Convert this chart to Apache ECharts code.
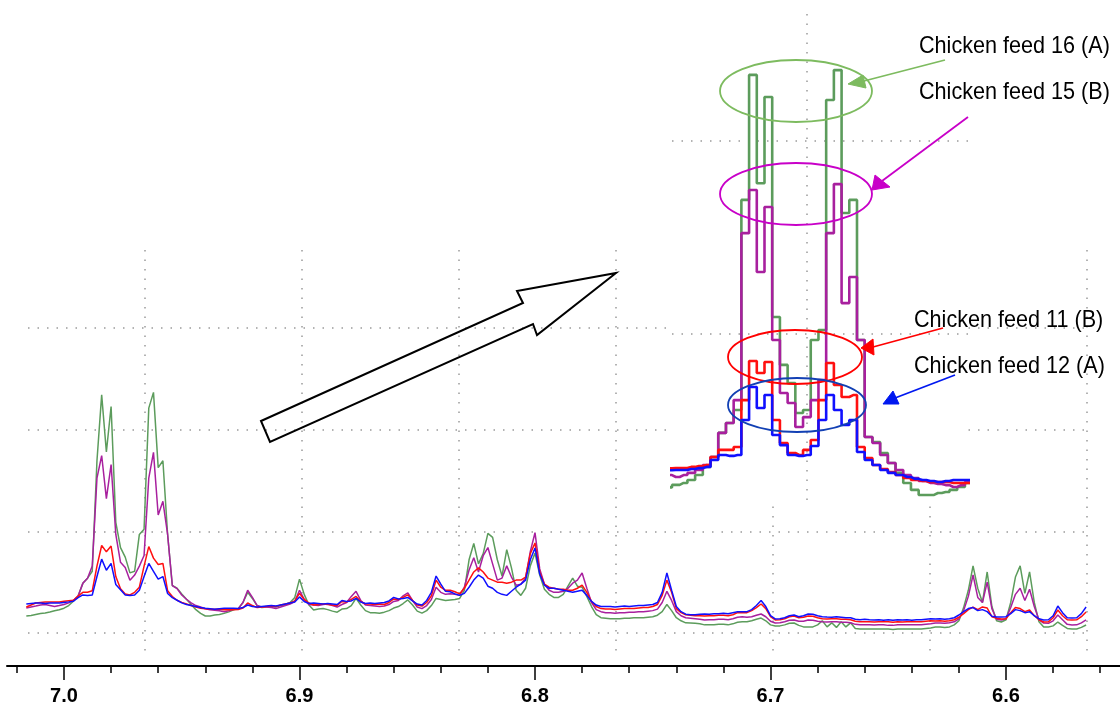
<!DOCTYPE html>
<html>
<head>
<meta charset="utf-8">
<script src="https://cdn.jsdelivr.net/npm/echarts@6/dist/echarts.min.js"></script>
<style>
  html, body { margin: 0; padding: 0; background: #fff; }
  #chart { width: 1120px; height: 706px; }
</style>
</head>
<body>
<div id="chart"></div>
<script>
// spectrum is sampled uniformly: first point and spacing (ppm)
const ppmStart = 7.016
const ppmStep = 0.002

// intensities (arbitrary units)
const blue12 = [
  28.5, 29.0, 29.5, 29.5, 29.0, 29.5, 29.6, 29.6, 30.1, 30.6,
  31.2, 34.8, 37.4, 36.9, 37.4, 55.5, 72.6, 61.7, 68.4, 47.7,
  42.5, 37.4, 36.9, 37.4, 42.0, 55.5, 68.4, 60.7, 52.9, 55.5,
  38.9, 34.8, 32.2, 29.6, 28.1, 27.0, 26.0, 25.0, 24.4, 23.9,
  23.4, 23.9, 24.4, 24.4, 24.4, 24.0, 25.0, 27.5, 26.0, 25.5,
  26.0, 26.5, 27.0, 26.5, 27.5, 28.5, 29.5, 30.5, 35.5, 31.0,
  29.0, 29.5, 29.0, 28.5, 29.0, 28.5, 28.0, 32.0, 31.0, 31.5,
  34.0, 30.5, 29.0, 29.5, 29.0, 29.5, 30.0, 31.5, 35.0, 33.5,
  34.0, 35.0, 31.5, 28.5, 27.5, 32.0, 40.0, 56.0, 48.0, 41.0,
  40.5, 38.5, 37.0, 39.0, 45, 52, 57, 54, 46, 44,
  40, 38, 37, 41, 45, 48, 52, 72, 83.6, 58,
  47, 44, 44, 43, 42, 41, 40, 41, 42, 37,
  31, 27.5, 26, 26, 26, 25.5, 26, 26.5, 26, 26.5,
  27, 27, 27.5, 28, 30, 40, 59, 42, 26, 21,
  18.5, 18, 18, 18.5, 18.7, 18.5, 19, 19, 19.5, 19,
  20, 21, 21, 21, 23, 27, 32, 26, 17, 13.8,
  14, 15, 17, 17.7, 16, 17, 18.7, 18.5, 17, 16,
  15.7, 15.5, 16, 15.5, 15, 15, 13.5, 13, 13.5, 13,
  12.8, 13, 12.5, 13, 12.5, 13, 12.8, 13, 12.5, 13,
  13, 13.5, 14, 13.8, 14, 13.5, 14, 15, 17.7, 21,
  24, 25, 22, 23, 21, 16.5, 15.7, 15.7, 16, 19,
  23, 22, 20, 21, 17, 14, 12.8, 13, 17, 26.5,
  20, 15, 14.7, 15, 19, 25.6
]
const red11 = [
  25.6, 27.5, 29.5, 30.0, 30.5, 30.5, 30.6, 30.6, 31.2, 31.7,
  32.2, 36.3, 40.0, 40.0, 41.5, 65.8, 86.0, 79.8, 85.5, 55.5,
  43.6, 38.4, 37.4, 40.0, 45.1, 65.8, 85.0, 73.6, 67.4, 68.4,
  41.5, 35.8, 32.2, 30.1, 28.6, 27.0, 25.5, 24.4, 23.9, 23.4,
  23.4, 23.4, 22.9, 22.9, 22.9, 23.0, 24.5, 29.5, 27.0, 25.0,
  25.5, 26.0, 26.5, 26.0, 27.5, 28.5, 29.5, 31.5, 39.0, 33.0,
  29.5, 27.5, 28.0, 28.5, 28.0, 27.5, 27.0, 31.0, 30.5, 33.0,
  36.0, 31.0, 28.5, 28.5, 28.0, 28.5, 28.0, 30.0, 33.5, 33.0,
  35.0, 37.5, 32.0, 27.5, 26.5, 30.0, 36.5, 52.0, 45.0, 42.0,
  42.0, 40.5, 38.5, 44.0, 52, 60, 64, 60, 54, 52,
  50, 50, 49, 50, 52, 52, 55, 78, 88.5, 60,
  48, 45, 44, 43, 43, 42, 42, 44, 47, 40,
  31, 26, 24, 23.5, 23.5, 23, 23.5, 24, 24, 24,
  24.5, 25, 25, 26, 28, 37, 52, 40, 24, 20,
  18, 17.5, 17, 17, 16.7, 17, 17, 17.5, 17.5, 17,
  18, 20, 20, 20, 22, 25, 28.5, 24, 16, 12.8,
  13, 14, 16, 16.7, 15, 15.5, 16.7, 16.5, 15, 14,
  13.8, 14, 14, 13.5, 13.5, 13, 11.5, 11, 11, 11,
  10.8, 11, 11, 11, 10.5, 11, 10.8, 11, 11, 11,
  11, 11.5, 12, 11.8, 12, 11.5, 12, 13, 15.5, 19,
  23, 25.5, 23, 25.6, 24.6, 16, 14.5, 13.8, 14, 20,
  25, 24, 21, 22.6, 17, 13, 10.8, 11, 15, 22.6,
  17, 13, 12.8, 13, 16, 20.6
]
const purple15 = [
  24.6, 25.6, 26.5, 27.5, 28.0, 27.0, 26.0, 27.0, 28.1, 29.6,
  32.2, 36.3, 48.8, 53.9, 65.8, 152.2, 174.5, 132.1, 165.7, 96.9,
  69.5, 64.3, 51.9, 57.0, 65.8, 76.2, 152.2, 177.6, 116.0, 129.5,
  96.9, 46.7, 43.6, 37.4, 33.2, 29.6, 27.0, 25.5, 23.9, 22.9,
  22.4, 21.8, 20.8, 21.8, 23.4, 24.0, 30.0, 42.0, 35.0, 27.0,
  25.5, 25.5, 25.0, 24.0, 25.5, 27.0, 28.5, 31.0, 42.0, 33.0,
  28.0, 27.5, 27.0, 28.0, 28.5, 27.0, 25.5, 28.0, 30.0, 36.0,
  41.0, 32.0, 27.5, 27.0, 26.5, 26.0, 26.5, 28.0, 31.0, 32.0,
  36.5, 39.5, 32.0, 25.5, 24.0, 27.0, 33.0, 45.0, 40.0, 38.0,
  38.5, 38.0, 37.0, 45.0, 62, 74, 60, 76, 84, 68,
  52, 54, 66, 55, 47, 48, 54, 80, 98.6, 63,
  48, 42, 40, 40, 41, 44, 49, 52, 59, 44,
  30, 23, 21, 20, 20, 19.5, 20, 20, 20.5, 20.5,
  21, 21, 21.5, 22, 23.5, 30, 41, 32, 21, 17,
  15, 14.5, 14, 13.5, 12.8, 13, 13, 13.5, 13.5, 13,
  14, 15.5, 16, 15.5, 16, 17.5, 18.7, 16, 11.5, 9.8,
  10, 11, 12.5, 12.8, 11.5, 11.5, 12.8, 12.5, 11.5, 11,
  10.8, 11, 11, 10.5, 10.5, 10, 8.5, 8, 8, 8,
  7.9, 8, 8, 7.5, 7.5, 8, 8, 8, 8, 8,
  8, 8.5, 9, 9.8, 9.8, 9.5, 10, 11, 14, 22,
  36, 57, 35, 30, 50, 24, 13.5, 12.8, 14, 25,
  38, 44, 32, 43, 26, 13, 9.8, 9.5, 12, 17.7,
  13, 8.5, 7.9, 8, 10, 12.8
]
const green16 = [
  16.7, 17.2, 18.2, 19.2, 19.7, 20.6, 21.9, 22.9, 24.4, 27.0,
  31.2, 36.3, 48.8, 53.9, 60.7, 169.4, 234.1, 178.0, 222.7, 108.8,
  84.0, 74.6, 59.1, 60.7, 96.9, 102.1, 221.1, 236.6, 162.6, 169.4,
  96.9, 46.7, 44.1, 38.4, 33.2, 28.1, 22.9, 19.3, 16.7, 16.7,
  17.7, 18.2, 19.3, 20.8, 22.9, 24.0, 30.0, 40.0, 34.0, 27.0,
  25.0, 25.5, 26.0, 25.5, 27.0, 28.0, 30.0, 35.0, 53.0, 38.0,
  27.5, 22.6, 23.5, 24.0, 23.0, 21.5, 20.5, 23.5, 24.0, 27.0,
  34.0, 27.5, 22.0, 20.0, 20.0, 19.5, 20.5, 22.0, 24.5, 26.0,
  29.0, 32.5, 27.5, 21.5, 19.5, 22.0, 27.0, 34.0, 33.0, 32.0,
  32.5, 33.0, 34.0, 42.0, 72, 88, 68, 78, 98, 94,
  72, 56, 82, 64, 42, 37, 44, 66, 78.6, 57,
  43, 38, 35, 35, 38, 46, 54, 46, 45, 36,
  26, 18, 15, 14.5, 14, 14, 14, 14.5, 14.5, 15,
  15, 15, 15.5, 16, 17.5, 21, 28, 22, 15, 12,
  10, 9.8, 9.5, 9, 8, 8, 8, 8.5, 8.5, 8,
  9, 10.5, 11, 11, 12, 13.5, 14.7, 12, 8, 6.9,
  7, 8, 9.5, 9.8, 7.5, 6, 5.9, 6, 8, 12,
  6, 10, 5.5, 11, 6, 10, 4.5, 4, 4, 4,
  3.9, 4, 4, 4, 3.5, 4, 4, 4, 3.9, 4,
  4, 4.5, 5, 5.9, 6, 5.5, 6, 8, 12, 25,
  42, 66, 44, 30, 60, 26, 12, 10.8, 13, 30,
  55, 66, 39, 60, 30, 11, 5.9, 5.9, 7, 10.8,
  7.5, 4.5, 3.9, 4, 5.5, 7.9
]

const majorTicks = [7.0, 6.9, 6.8, 6.7, 6.6]
const minorTicks = [7.02, 6.98, 6.96, 6.94, 6.92, 6.88, 6.86, 6.84, 6.82, 6.78,
  6.76, 6.74, 6.72, 6.68, 6.66, 6.64, 6.62, 6.58, 6.56]

const spectra = [
  { name: 'Chicken feed 16 (A)', values: green16, color: '#5c9c5c' },
  { name: 'Chicken feed 15 (B)', values: purple15, color: '#a8209e' },
  { name: 'Chicken feed 11 (B)', values: red11, color: '#ff1010' },
  { name: 'Chicken feed 12 (A)', values: blue12, color: '#1010ff' }
]

function toPairs(values) {
  return values.map((v, i) => [+(ppmStart - i * ppmStep).toFixed(3), v])
}

const dotted = { type: [1.5, 8], color: '#9a9a9a', width: 1.5 }

const chart = echarts.init(document.getElementById('chart'), null, { renderer: 'canvas' })

let series = []
spectra.forEach(s => {
  series.push({
    name: s.name, type: 'line', xAxisIndex: 0, yAxisIndex: 0,
    data: toPairs(s.values), showSymbol: false,
    lineStyle: { color: s.color, width: 1.5 }, z: 2, silent: true
  })
})
spectra.forEach((s, k) => {
  let item = {
    name: s.name + ' inset', type: 'line', xAxisIndex: 4, yAxisIndex: 3,
    data: toPairs(s.values), step: 'middle', showSymbol: false,
    lineStyle: { color: s.color, width: 2.6 }, z: 5, silent: true
  }
  if (k === 0) {
    item.markLine = {
      silent: true, symbol: ['none', 'none'], label: { show: false },
      lineStyle: dotted, animation: false,
      data: [{ xAxis: 6.9659 }, { yAxis: 100 }, { yAxis: 200 }]
    }
  }
  series.push(item)
})

function label(text, x, y) {
  return {
    type: 'text', x: x, y: y, scaleX: 0.9, z: 100, silent: true,
    style: { text: text, font: '24px "Liberation Sans", Arial, sans-serif', fill: '#000', verticalAlign: 'middle' }
  }
}
function pointer(color, from, to, head) {
  return [
    { type: 'line', z: 101, silent: true, shape: { x1: from[0], y1: from[1], x2: to[0], y2: to[1] }, style: { stroke: color, lineWidth: 1.8 } },
    { type: 'polygon', z: 101, silent: true, shape: { points: head }, style: { fill: color, stroke: color, lineWidth: 1 } }
  ]
}
function ring(color, cx, cy, rx, ry) {
  return { type: 'ellipse', z: 100, silent: true, shape: { cx, cy, rx, ry }, style: { fill: 'none', stroke: color, lineWidth: 1.8 } }
}

const graphics = [
  { type: 'polygon', z: 100, silent: true,
    shape: { points: [[261, 421], [523, 303], [517, 291], [616, 273], [537, 335], [533, 324], [270, 442]] },
    style: { fill: 'none', stroke: '#000', lineWidth: 2 } },
  ring('#7dbb5f', 796, 91, 76, 31),
  ring('#c800c8', 796, 194, 76, 31),
  ring('#ff0000', 795, 357, 67, 27),
  ring('#1240b4', 797, 405, 69, 27),
  label('Chicken feed 16 (A)', 919, 46),
  label('Chicken feed 15 (B)', 919, 92),
  label('Chicken feed 11 (B)', 914, 320),
  label('Chicken feed 12 (A)', 914, 366)
].concat(
  pointer('#7dbb5f', [945, 60], [864, 81], [[848, 84], [863, 75], [866, 88]]),
  pointer('#c800c8', [968, 117], [882, 181], [[872, 190], [875, 175], [890, 187]]),
  pointer('#ff0000', [943, 328], [873, 347], [[861, 348], [873, 339], [874, 355]]),
  pointer('#0018f0', [955, 375], [895, 398], [[883, 404], [893, 391], [899, 404]])
)

const option = {
  animation: false,
  backgroundColor: '#fff',
  grid: [
    { left: 7, right: 0, top: 0, bottom: 73 },
    { left: 145, right: 33, top: 250, bottom: 51 },
    { left: 28, right: 33, top: 327.9, bottom: 73 },
    { left: 672, right: 152, top: 13, bottom: 206, show: true, backgroundColor: '#fff', borderWidth: 0, z: 3 }
  ],
  xAxis: [
    {
      gridIndex: 0, type: 'value', min: 6.5516, max: 7.0242, inverse: true, position: 'bottom', offset: 33,
      axisLine: { show: true, onZero: false, lineStyle: { color: '#000', width: 2 } },
      axisTick: { show: true, customValues: majorTicks, length: 14, lineStyle: { color: '#000', width: 1.5 } },
      axisLabel: {
        show: true, customValues: majorTicks, margin: 20, color: '#000',
        fontFamily: '"Liberation Sans", Arial, sans-serif', fontWeight: 'bold', fontSize: 20,
        formatter: v => v.toFixed(1)
      },
      splitLine: { show: false }
    },
    {
      gridIndex: 0, type: 'value', min: 6.5516, max: 7.0242, inverse: true, position: 'bottom', offset: 33,
      axisLine: { show: false, onZero: false },
      axisTick: { show: true, customValues: minorTicks, length: 7, lineStyle: { color: '#000', width: 1.5 } },
      axisLabel: { show: false },
      splitLine: { show: false }
    },
    {
      gridIndex: 1, type: 'value', min: 0, max: 6, interval: 1,
      axisLine: { show: false, onZero: false }, axisTick: { show: false }, axisLabel: { show: false },
      splitLine: { show: true, lineStyle: dotted }
    },
    { gridIndex: 2, type: 'value', show: false, min: 0, max: 1 },
    { gridIndex: 3, type: 'value', show: false, min: 6.9282, max: 7.0050, inverse: true }
  ],
  yAxis: [
    { gridIndex: 0, type: 'value', show: false, min: 0, max: 622.4 },
    { gridIndex: 1, type: 'value', show: false, min: 0, max: 1 },
    {
      gridIndex: 2, type: 'value', min: 0, max: 300, interval: 100,
      axisLine: { show: false, onZero: false }, axisTick: { show: false }, axisLabel: { show: false },
      splitLine: { show: true, lineStyle: dotted }
    },
    { gridIndex: 3, type: 'value', show: false, min: 14.08, max: 266.15 }
  ],
  series: series,
  graphic: { elements: graphics }
}

chart.setOption(option)
</script>
</body>
</html>
